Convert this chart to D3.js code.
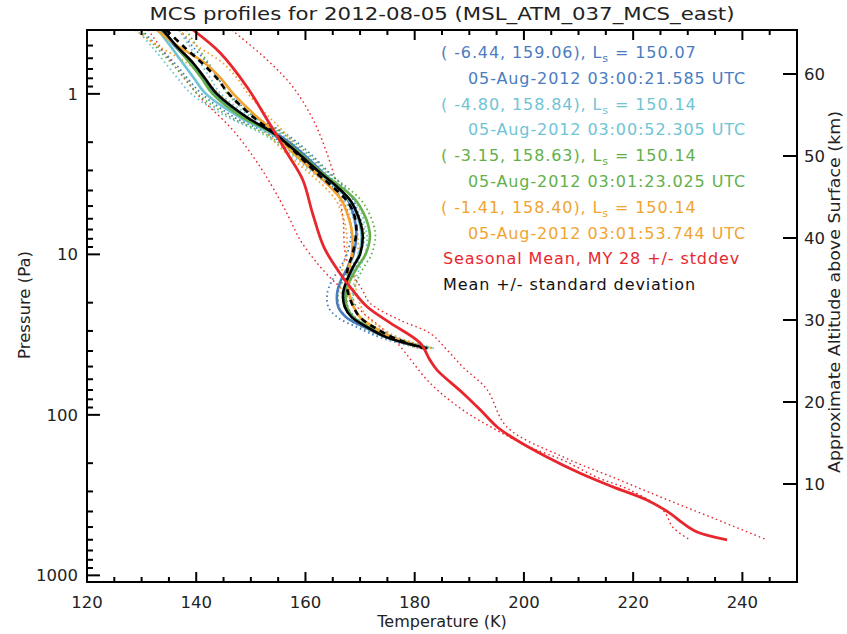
<!DOCTYPE html>
<html><head><meta charset="utf-8">
<script src="https://cdn.jsdelivr.net/npm/d3@7"></script>
<style>
body{margin:0;background:#fff;}
text{font-family:"DejaVu Sans",sans-serif;}
</style></head>
<body><svg id="c" width="847" height="634"></svg>
<script>
// ---------------- data ----------------
const titleText = "MCS profiles for 2012-08-05 (MSL_ATM_037_MCS_east)";
const xTickLabels = [120,140,160,180,200,220,240];
const yTickLabels = [1,10,100,1000];
const altTickLabels = [10,20,30,40,50,60];

// MCS retrieval pressure levels (Pa)
const presLevels = [0.40,0.5,0.64,0.8,1.0,1.4,1.75,2.2,3.1,3.8,4.6,5.5,6.6,7.8,10,12,14.5,17.4,21.3,24.7,28.4,32.9,38.5];
const blueT   = [133.5,136.0,139.0,141.2,143.5,149.0,154.5,158.5,163.2,166.0,167.8,168.7,169.2,169.3,168.8,167.8,166.5,165.8,166.0,167.5,170.8,174.8,182.0];
const blueErr = [3.5,3.2,3.0,2.8,2.5,2.0,1.6,1.4,1.2,1.0,1.0,0.9,0.9,1.0,1.2,1.4,1.6,1.8,1.8,1.6,1.4,1.2,1.0];
const cyanT   = [133.0,135.2,137.5,139.6,141.8,148.0,153.5,157.5,162.5,165.5,168.0,169.3,170.0,170.3,169.8,168.8,167.8,167.2,167.5,168.8,171.5,175.2,182.5];
const cyanErr = [3.8,3.5,3.2,3.0,2.7,2.2,1.7,1.4,1.2,1.0,0.9,0.9,0.9,1.0,1.1,1.2,1.3,1.4,1.4,1.3,1.2,1.1,1.0];
const greenT  = [134.0,136.2,138.8,141.0,143.0,148.5,154.0,158.0,163.0,166.5,169.2,170.6,171.5,171.8,171.0,169.5,168.2,167.4,167.6,168.8,171.6,175.5,182.5];
const greenErr= [4.2,3.8,3.4,3.0,2.7,2.2,1.7,1.4,1.2,1.0,1.0,1.0,1.0,1.0,1.1,1.2,1.3,1.4,1.4,1.3,1.2,1.1,1.0];
const orangeT = [132.8,136.5,141.5,144.5,146.8,151.2,154.5,157.0,161.8,164.5,166.6,167.6,168.3,168.6,168.5,168.0,167.8,168.0,168.8,170.0,172.5,175.8,182.0];
const orangeErr=[4.0,3.6,3.3,3.0,2.7,2.2,1.7,1.4,1.2,1.0,1.0,1.0,1.0,1.0,1.1,1.2,1.3,1.4,1.4,1.3,1.2,1.1,1.0];
const meanT   = [133.9,136.3,139.4,141.6,143.8,149.3,154.1,157.7,162.7,165.8,168.2,169.4,170.2,170.5,170.0,168.7,167.6,166.9,167.2,168.5,171.3,174.9,182.3];
const meanDashT=[134.5,137.5,141.0,143.8,146.0,150.5,154.3,157.5,162.0,165.0,167.5,168.8,169.3,169.2,168.6,167.8,167.5,167.8,168.8,170.0,172.5,176.0,181.5];

// Seasonal mean MY 28
const seasP = [0.40,0.556,0.906,1.45,2.33,3.43,5.55,9.05,13.1,16.0,21.2,26.7,35.7,45.6,52.6,73,93,119,144,183,231,281,339,409,473,537,601];
const seasT = [139.4,144.4,149.3,153.0,156.6,159.5,161.3,163.4,166.3,168.2,171.3,175.5,181.0,182.8,184.1,188.8,192.0,195.1,198.7,204.2,210.3,216.3,222.5,226.7,229.1,231.7,237.2];
const seasLoP = [0.40,0.615,1.05,1.68,2.85,4.58,6.1,8.1,11.3,14.5,16.6,22.2,27.6,35.7,63.3,93.2,125,159,192,245,294,394,503,602];
const seasLoT = [131.2,135.2,140.7,146.7,151.7,155.3,157.2,159.0,162.1,165.0,166.9,170.0,173.3,176.8,182.8,188.8,195.1,201.1,207.2,213.4,219.4,225.5,227.3,230.4];
const seasHiP = [0.40,0.615,0.906,1.45,2.33,3.80,6.1,9.4,12.5,16.6,20.1,25.7,31.0,39.3,50.3,69.3,119,183,245,330,439,601];
const seasHiT = [146.5,153.0,157.7,161.4,163.9,165.8,166.9,167.2,168.2,170.4,171.8,177.3,182.8,185.9,188.8,193.2,196.9,207.2,216.3,225.5,234.6,244.5];

const legendRows = [
  {coord:"( -6.44, 159.06), L", ls:"150.07", time:"05-Aug-2012 03:00:21.585 UTC", color:"#4a7cc0"},
  {coord:"( -4.80, 158.84), L", ls:"150.14", time:"05-Aug-2012 03:00:52.305 UTC", color:"#6fc4d4"},
  {coord:"( -3.15, 158.63), L", ls:"150.14", time:"05-Aug-2012 03:01:23.025 UTC", color:"#63b04a"},
  {coord:"( -1.41, 158.40), L", ls:"150.14", time:"05-Aug-2012 03:01:53.744 UTC", color:"#f1a430"}
];
const seasLabel = "Seasonal Mean, MY 28 +/- stddev";
const meanLabel = "Mean +/- standard deviation";

// ---------------- drawing ----------------
const svg = d3.select("#c");
const L=87, R=797, T=30, B=582;
const x = d3.scaleLinear().domain([120,250]).range([L,R]);
const y = d3.scaleLog().domain([0.4,1100]).range([T,B]);
const yAlt = d3.scaleLinear().domain([0,60]).range([566,74]);

svg.append("clipPath").attr("id","pc").append("rect")
  .attr("x",L).attr("y",T).attr("width",R-L).attr("height",B-T);
const g = svg.append("g").attr("clip-path","url(#pc)");

const line = d3.line().x(d=>x(d[1])).y(d=>y(d[0])).curve(d3.curveCatmullRom.alpha(0.5));
function draw(P, Tv, color, w, dash){
  g.append("path").attr("d", line(P.map((p,i)=>[p,Tv[i]])))
   .attr("fill","none").attr("stroke",color).attr("stroke-width",w)
   .attr("stroke-dasharray",dash||null);
}
const dot = "1.6,3";
draw(seasLoP, seasLoT, "#e8262d", 1.4, dot);
draw(seasHiP, seasHiT, "#e8262d", 1.4, dot);
const profs = [[blueT,blueErr,"#4a7cc0"],[cyanT,cyanErr,"#6fc4d4"],[greenT,greenErr,"#63b04a"],[orangeT,orangeErr,"#f1a430"]];
profs.forEach(([Tv,E,c])=>{
  draw(presLevels, Tv.map((t,i)=>t-E[i]), c, 1.8, dot);
  draw(presLevels, Tv.map((t,i)=>t+E[i]), c, 1.8, dot);
});
profs.forEach(([Tv,E,c])=> draw(presLevels, Tv, c, 2.6));
draw(presLevels, meanDashT, "#000", 2.6, "6,5");
draw(presLevels, meanT, "#000", 2.6);
draw(seasP, seasT, "#e8262d", 2.8);

// frame
svg.append("rect").attr("x",L).attr("y",T).attr("width",R-L).attr("height",B-T)
  .attr("fill","none").attr("stroke","#000").attr("stroke-width",2);

// x ticks (bottom & top, inward)
const ax = svg.append("g").attr("stroke","#000").attr("stroke-width",2);
d3.range(125,250,5).forEach(v=>{
  const len = v%20===0?10:5;
  ax.append("line").attr("x1",x(v)).attr("x2",x(v)).attr("y1",B).attr("y2",B-len);
  ax.append("line").attr("x1",x(v)).attr("x2",x(v)).attr("y1",T).attr("y2",T+len);
});
xTickLabels.forEach(v=>{
  svg.append("text").attr("x",x(v)).attr("y",608).attr("text-anchor","middle")
    .attr("font-size",16.5).attr("fill","#222").text(v);
});
// y ticks (left, inward)
[0.4,0.5,0.6,0.7,0.8,0.9].concat(d3.range(1,4).flatMap(e=>d3.range(1,10).map(m=>m*Math.pow(10,e-1)))).concat([1000])
.forEach(v=>{
  const lv = Math.log10(v);
  const major = Math.abs(lv-Math.round(lv))<1e-9;
  if (y(v)<T || y(v)>B) return;
  ax.append("line").attr("x1",L).attr("x2",L+(major?13:6)).attr("y1",y(v)).attr("y2",y(v));
});
yTickLabels.forEach(v=>{
  svg.append("text").attr("x",L-9).attr("y",y(v)+6).attr("text-anchor","end")
    .attr("font-size",16.5).attr("fill","#222").text(v);
});
// right altitude axis
altTickLabels.forEach(v=>{
  ax.append("line").attr("x1",R).attr("x2",R-14).attr("y1",yAlt(v)).attr("y2",yAlt(v));
  svg.append("text").attr("x",R+7).attr("y",yAlt(v)+6).attr("font-size",16.5).attr("fill","#222").text(v);
});

// titles
svg.append("text").attr("x",442).attr("y",20).attr("text-anchor","middle")
  .attr("font-size",18).attr("fill","#222").attr("textLength",585).attr("lengthAdjust","spacingAndGlyphs").text(titleText);
svg.append("text").attr("x",442).attr("y",627).attr("text-anchor","middle")
  .attr("font-size",16).attr("fill","#222").text("Temperature (K)");
svg.append("text").attr("transform","translate(30,305) rotate(-90)").attr("text-anchor","middle")
  .attr("font-size",16.5).attr("fill","#222").text("Pressure (Pa)");
svg.append("text").attr("transform","translate(840,292) rotate(-90)").attr("text-anchor","middle")
  .attr("font-size",16).attr("fill","#222").attr("textLength",362).attr("lengthAdjust","spacingAndGlyphs")
  .text("Approximate Altitude above Surface (km)");

// legend
const lg = svg.append("g").attr("font-size",16).attr("letter-spacing",0.9);
legendRows.forEach((r,i)=>{
  const by = 58 + i*2*25.8;
  const t = lg.append("text").attr("x",441).attr("y",by).attr("fill",r.color);
  t.append("tspan").text(r.coord);
  t.append("tspan").attr("font-size",11).attr("dy",4).text("s");
  t.append("tspan").attr("dy",-4).text(" = " + r.ls);
  lg.append("text").attr("x",468).attr("y",by+25.8).attr("fill",r.color).text(r.time);
});
lg.append("text").attr("x",443).attr("y",58+8*25.8).attr("fill","#e8262d").text(seasLabel);
lg.append("text").attr("x",443).attr("y",58+9*25.8).attr("fill","#111").text(meanLabel);
</script></body></html>
